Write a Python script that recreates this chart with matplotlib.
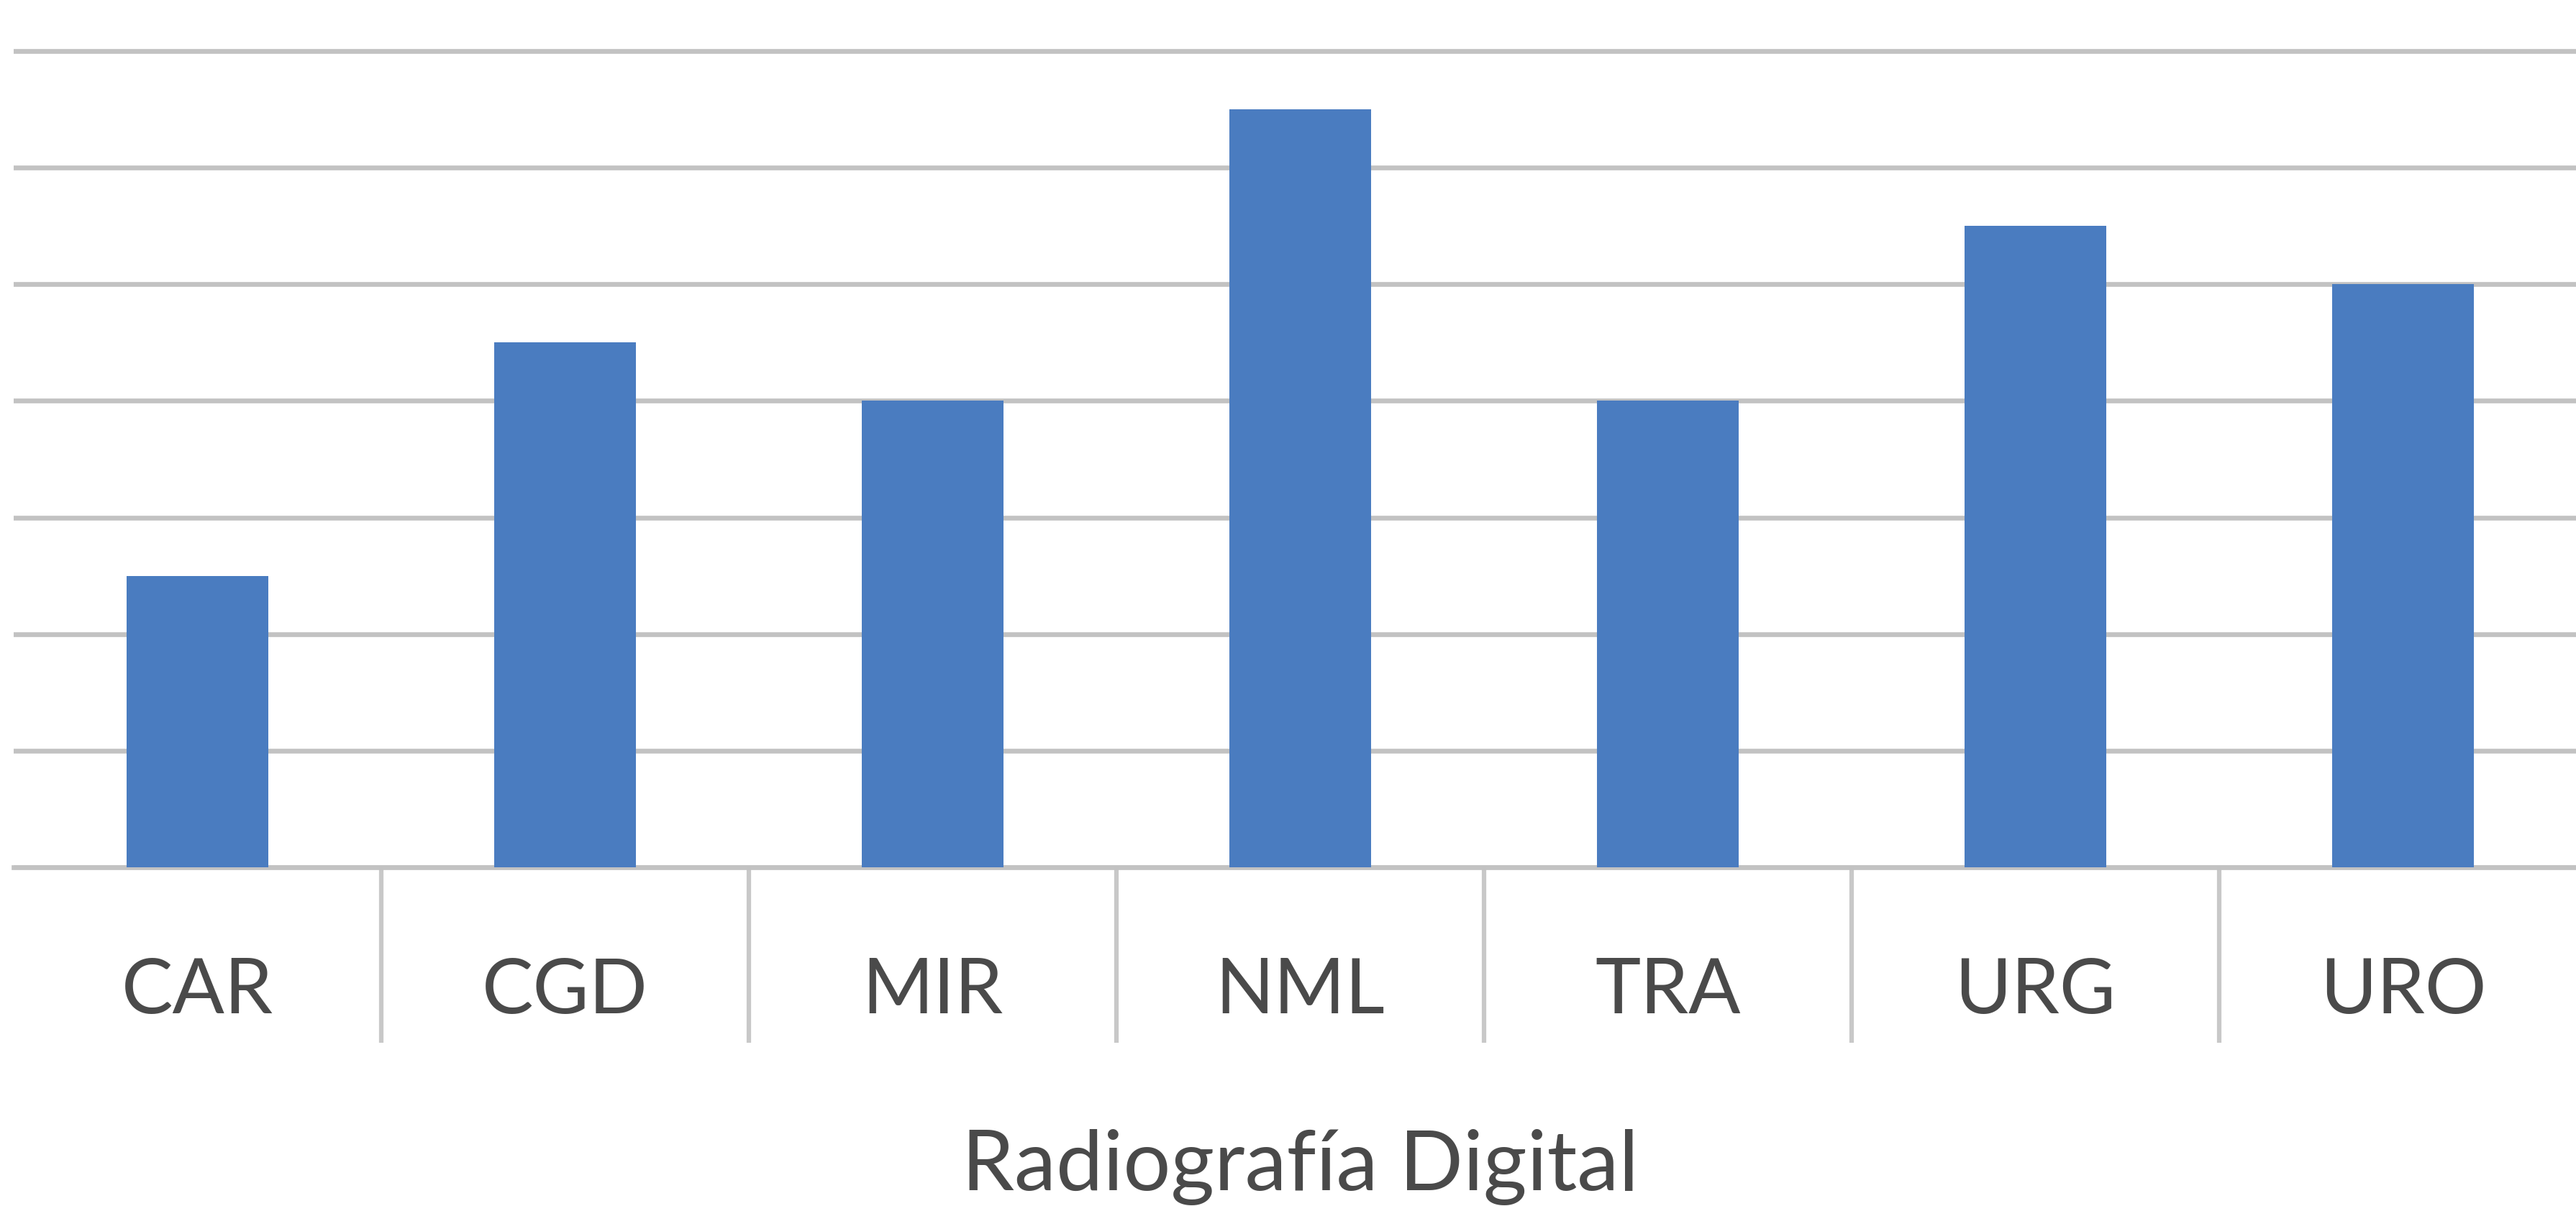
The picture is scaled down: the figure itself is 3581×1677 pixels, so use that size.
import matplotlib
matplotlib.use("Agg")
import matplotlib.pyplot as plt
import numpy as np

# Category codes and counts per service
categories = ["CAR", "CGD", "MIR", "NML", "TRA", "URG", "URO"]
counts = [5, 9, 8, 13, 8, 11, 10]
y_ticks = [0, 2, 4, 6, 8, 10, 12, 14]
axis_title = "Radiografía Digital"

W, H, DPI = 3581, 1677, 100
fig = plt.figure(figsize=(W / DPI, H / DPI), dpi=DPI)
fig.patch.set_facecolor("white")

# Plot area: baseline at 1206 px from top, left edge at 19 px, runs a bit past the right edge
left_px, right_px = 19, 3596
base_px = 1206
ymax = 14.3
unit = (base_px - 71) / 14.0
top_px = 71 - (ymax - 14) * unit
ax = fig.add_axes([left_px / W, (H - base_px) / H,
                   (right_px - left_px) / W, (base_px - top_px) / H])

x = np.arange(len(categories))
ax.bar(x, counts, width=0.385, color="#4a7cc0", zorder=3)

ax.set_xlim(-0.5, len(categories) - 0.5)
ax.set_ylim(0, ymax)

# Horizontal gridlines
ax.set_yticks(y_ticks)
ax.yaxis.grid(True, color="#c2c2c2", linewidth=4.8, zorder=0)
ax.tick_params(axis="y", left=False, labelleft=False)

for s in ["left", "right", "top"]:
    ax.spines[s].set_visible(False)
ax.spines["bottom"].set_color("#c2c2c2")
ax.spines["bottom"].set_linewidth(4.8)
ax.set_axisbelow(True)

text_color = "#4a4a4a"

# Category labels centred under bars, divider ticks between categories
ax.set_xticks(x)
ax.set_xticklabels(categories, fontfamily="Lato", fontsize=77, color=text_color)
ax.tick_params(axis="x", which="major", length=0, pad=90)
ax.set_xticks(np.arange(0.5, len(categories) - 0.5, 1.0), minor=True)
ax.tick_params(axis="x", which="minor", length=176, width=4.5,
               color="#c8c8c8", direction="out")

# Axis title, baseline near the bottom edge
ax.set_xlabel(axis_title, fontfamily="Lato", fontsize=84, color=text_color)
ax.xaxis.set_label_coords(0.5, ((H - 1655) - (H - base_px)) / (base_px - top_px))
ax.xaxis.label.set_va("baseline")

fig.savefig("out.png", dpi=DPI, facecolor="white")
